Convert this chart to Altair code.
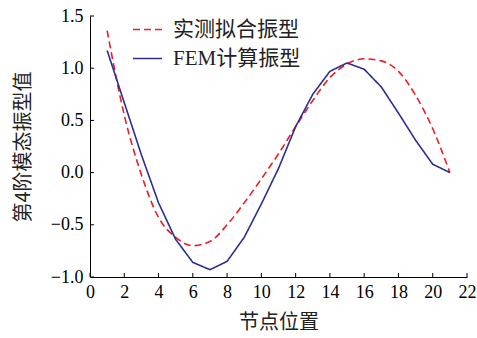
import altair as alt
import pandas as pd

nodes = list(range(1, 22))
measured = [1.36, 0.55, -0.02, -0.43, -0.62, -0.70, -0.66, -0.50, -0.29, -0.06, 0.18,
            0.44, 0.69, 0.91, 1.04, 1.09, 1.07, 0.97, 0.74, 0.42, 0.0]
fem = [1.17, 0.67, 0.17, -0.29, -0.64, -0.86, -0.93, -0.85, -0.62, -0.30, 0.04,
       0.44, 0.75, 0.97, 1.05, 0.99, 0.82, 0.57, 0.31, 0.08, 0.0]
series_names = ["实测拟合振型", "FEM计算振型"]
series_colors = ["#ee1c25", "#2b2f8f"]
x_ticks = [0, 2, 4, 6, 8, 10, 12, 14, 16, 18, 20, 22]
y_ticks = [-1.0, -0.5, 0.0, 0.5, 1.0, 1.5]

rows = []
for n, m, f in zip(nodes, measured, fem):
    rows.append({"node": n, "value": m, "series": series_names[0]})
    rows.append({"node": n, "value": f, "series": series_names[1]})
df = pd.DataFrame(rows)

W, H = 377, 261
SERIF = "Liberation Serif, Noto Sans CJK SC"

xscale = alt.Scale(domain=[0, 22], nice=False, zero=False)
yscale = alt.Scale(domain=[-1.0, 1.5], nice=False, zero=False)

x_axis = alt.Axis(
    values=x_ticks, title="节点位置", ticks=False, labelFlush=False,
    labelPadding=6, titleFont="Noto Sans CJK SC", titleFontSize=20,
    titleX=W / 2, titleY=45, titleBaseline="middle", titleAlign="center")
y_axis = alt.Axis(
    values=y_ticks, format=".1f", title="第4阶模态振型值", ticks=False,
    labelFlush=False, labelPadding=7, titleFont="Noto Sans CJK SC",
    titleFontSize=20, titleX=-67, titleY=H / 2, titleAngle=-90,
    titleBaseline="middle", titleAlign="center")
x_enc = alt.X("node:Q", scale=xscale, axis=x_axis)
y_enc = alt.Y("value:Q", scale=yscale, axis=y_axis)

legend = alt.Legend(title=None, orient="none", legendX=42, legendY=-2,
                    symbolType="stroke", symbolSize=841,
                    symbolStrokeWidth=1.6, labelFont=SERIF,
                    labelFontSize=21, labelColor="#222222",
                    labelOffset=10, rowPadding=3, padding=0)
color_enc = alt.Color("series:N", scale=alt.Scale(domain=series_names, range=series_colors),
                      legend=legend)
dash_enc = alt.StrokeDash("series:N", scale=alt.Scale(domain=series_names, range=[[7, 4], [1, 0]]),
                          legend=legend)

red = alt.Chart(df).transform_filter(alt.datum.series == series_names[0]).mark_line(
    strokeWidth=1.6, interpolate="monotone").encode(x=x_enc, y=y_enc, color=color_enc, strokeDash=dash_enc)
blue = alt.Chart(df).transform_filter(alt.datum.series == series_names[1]).mark_line(
    strokeWidth=1.6).encode(x=x_enc, y=y_enc, color=color_enc, strokeDash=dash_enc)

xt = alt.Chart(pd.DataFrame({"node": x_ticks})).mark_rule(color="black", strokeWidth=1).encode(
    x=x_enc, y=alt.value(H), y2=alt.value(H - 4))
yt = alt.Chart(pd.DataFrame({"value": y_ticks})).mark_rule(color="black", strokeWidth=1).encode(
    y=y_enc, x=alt.value(0), x2=alt.value(4))

chart = alt.layer(red, blue, xt, yt).properties(
    width=W, height=H,
    autosize=alt.AutoSizeParams(type="none"),
    padding={"left": 90, "top": 16, "right": 10, "bottom": 61},
    background="white",
).configure_view(stroke=None).configure_axis(
    domainColor="black", domainWidth=1, grid=False, labelFont=SERIF,
    labelFontSize=18, labelColor="black", titleColor="#222222", titleFontWeight="normal",
)

chart.save("out.html", embed_options={"renderer": "svg", "actions": False})
